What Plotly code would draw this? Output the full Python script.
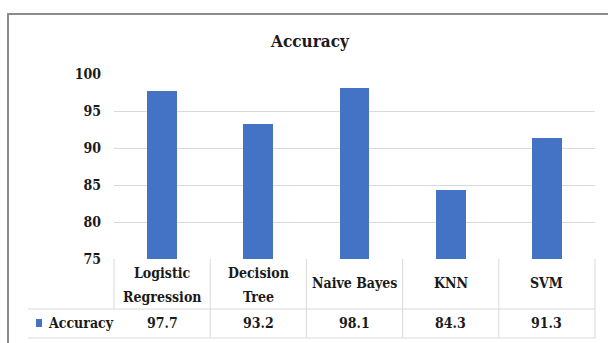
import plotly.graph_objects as go

# ---- data ----
categories = ["Logistic Regression", "Decision Tree", "Naive Bayes", "KNN", "SVM"]
header_lines = [["Logistic", "Regression"], ["Decision", "Tree"], ["Naive Bayes"], ["KNN"], ["SVM"]]
accuracy = [97.7, 93.2, 98.1, 84.3, 91.3]
series_name = "Accuracy"
chart_title = "Accuracy"
y_ticks = [75, 80, 85, 90, 95, 100]

# ---- layout constants ----
W, H = 608, 343
L, R, T, B = 114, 13, 74, 84
PW, PH = W - L - R, H - T - B
BLUE = "#4472C4"
GRID = "#d9d9d9"
TXT = "#1a1a1a"
FONT = "DejaVu Serif Condensed, DejaVu Serif"


def px_x(p):
    return (p - L) / PW


def px_y(p):
    return (H - B - p) / PH


fig = go.Figure()
fig.add_trace(go.Bar(
    x=list(range(len(categories))),
    y=[v - 75 for v in accuracy],
    base=75,
    width=0.31,
    marker=dict(color=BLUE, line=dict(width=0)),
    name=series_name,
    hovertext=categories,
))

shapes = []
annotations = []

# header text (category names)
for i, lines in enumerate(header_lines):
    if len(lines) == 2:
        ys = [273, 297]
    else:
        ys = [283]
    for ln, yy in zip(lines, ys):
        annotations.append(dict(
            x=i, xref="x", y=px_y(yy), yref="paper", text="<b>" + ln + "</b>", showarrow=False,
            xanchor="center", yanchor="middle",
            font=dict(family=FONT, size=14, color=TXT),
        ))

# data row
for i, v in enumerate(accuracy):
    annotations.append(dict(
        x=i, xref="x", y=px_y(323), yref="paper", text=f"<b>{v}</b>", showarrow=False,
        xanchor="center", yanchor="middle",
        font=dict(family=FONT, size=14, color=TXT),
    ))
annotations.append(dict(
    x=px_x(46), xref="paper", y=px_y(323), yref="paper", text="<b>" + series_name + "</b>", showarrow=False,
    xanchor="left", yanchor="middle",
    font=dict(family=FONT, size=14, color=TXT),
))
# legend key
shapes.append(dict(type="rect", xref="paper", yref="paper",
                   x0=px_x(36), x1=px_x(42), y0=px_y(319), y1=px_y(327),
                   fillcolor=BLUE, line=dict(width=0)))

# table lines
for y in [309, 338]:
    shapes.append(dict(type="line", xref="paper", yref="paper",
                       x0=px_x(28), x1=1, y0=px_y(y), y1=px_y(y),
                       line=dict(color=GRID, width=1)))
for k in range(1, len(categories) + 1):
    xx = k / len(categories)
    shapes.append(dict(type="line", xref="paper", yref="paper",
                       x0=xx, x1=xx, y0=0, y1=px_y(338),
                       line=dict(color=GRID, width=1)))
shapes.append(dict(type="line", xref="paper", yref="paper",
                   x0=0, x1=0, y0=0, y1=px_y(309),
                   line=dict(color=GRID, width=1)))

# outer chart border
shapes.append(dict(type="rect", xref="paper", yref="paper",
                   x0=px_x(8), x1=px_x(625), y0=px_y(14), y1=px_y(360),
                   line=dict(color="#8c8c8c", width=2), fillcolor="rgba(0,0,0,0)"))

fig.update_layout(
    width=W, height=H,
    margin=dict(l=L, r=R, t=T, b=B, pad=0),
    paper_bgcolor="white", plot_bgcolor="white",
    showlegend=False,
    title=dict(text="<b>" + chart_title + "</b>", x=310 / W, xanchor="center", y=1 - 41 / H, yanchor="middle",
               font=dict(family=FONT, size=17, color=TXT)),
    xaxis=dict(range=[-0.5, len(categories) - 0.5], showticklabels=False, showgrid=False,
               zeroline=False, showline=False, ticks="", fixedrange=True),
    yaxis=dict(range=[75, 100], tickvals=y_ticks, ticktext=[f"<b>{t}</b>" for t in y_ticks],
               showgrid=True, gridcolor=GRID, gridwidth=1,
               zeroline=False, showline=False, ticks="", ticklabelstandoff=12,
               tickfont=dict(family=FONT, size=14, color=TXT), fixedrange=True),
    shapes=shapes,
    annotations=annotations,
    bargap=0,
)

fig.write_html("out.html")
